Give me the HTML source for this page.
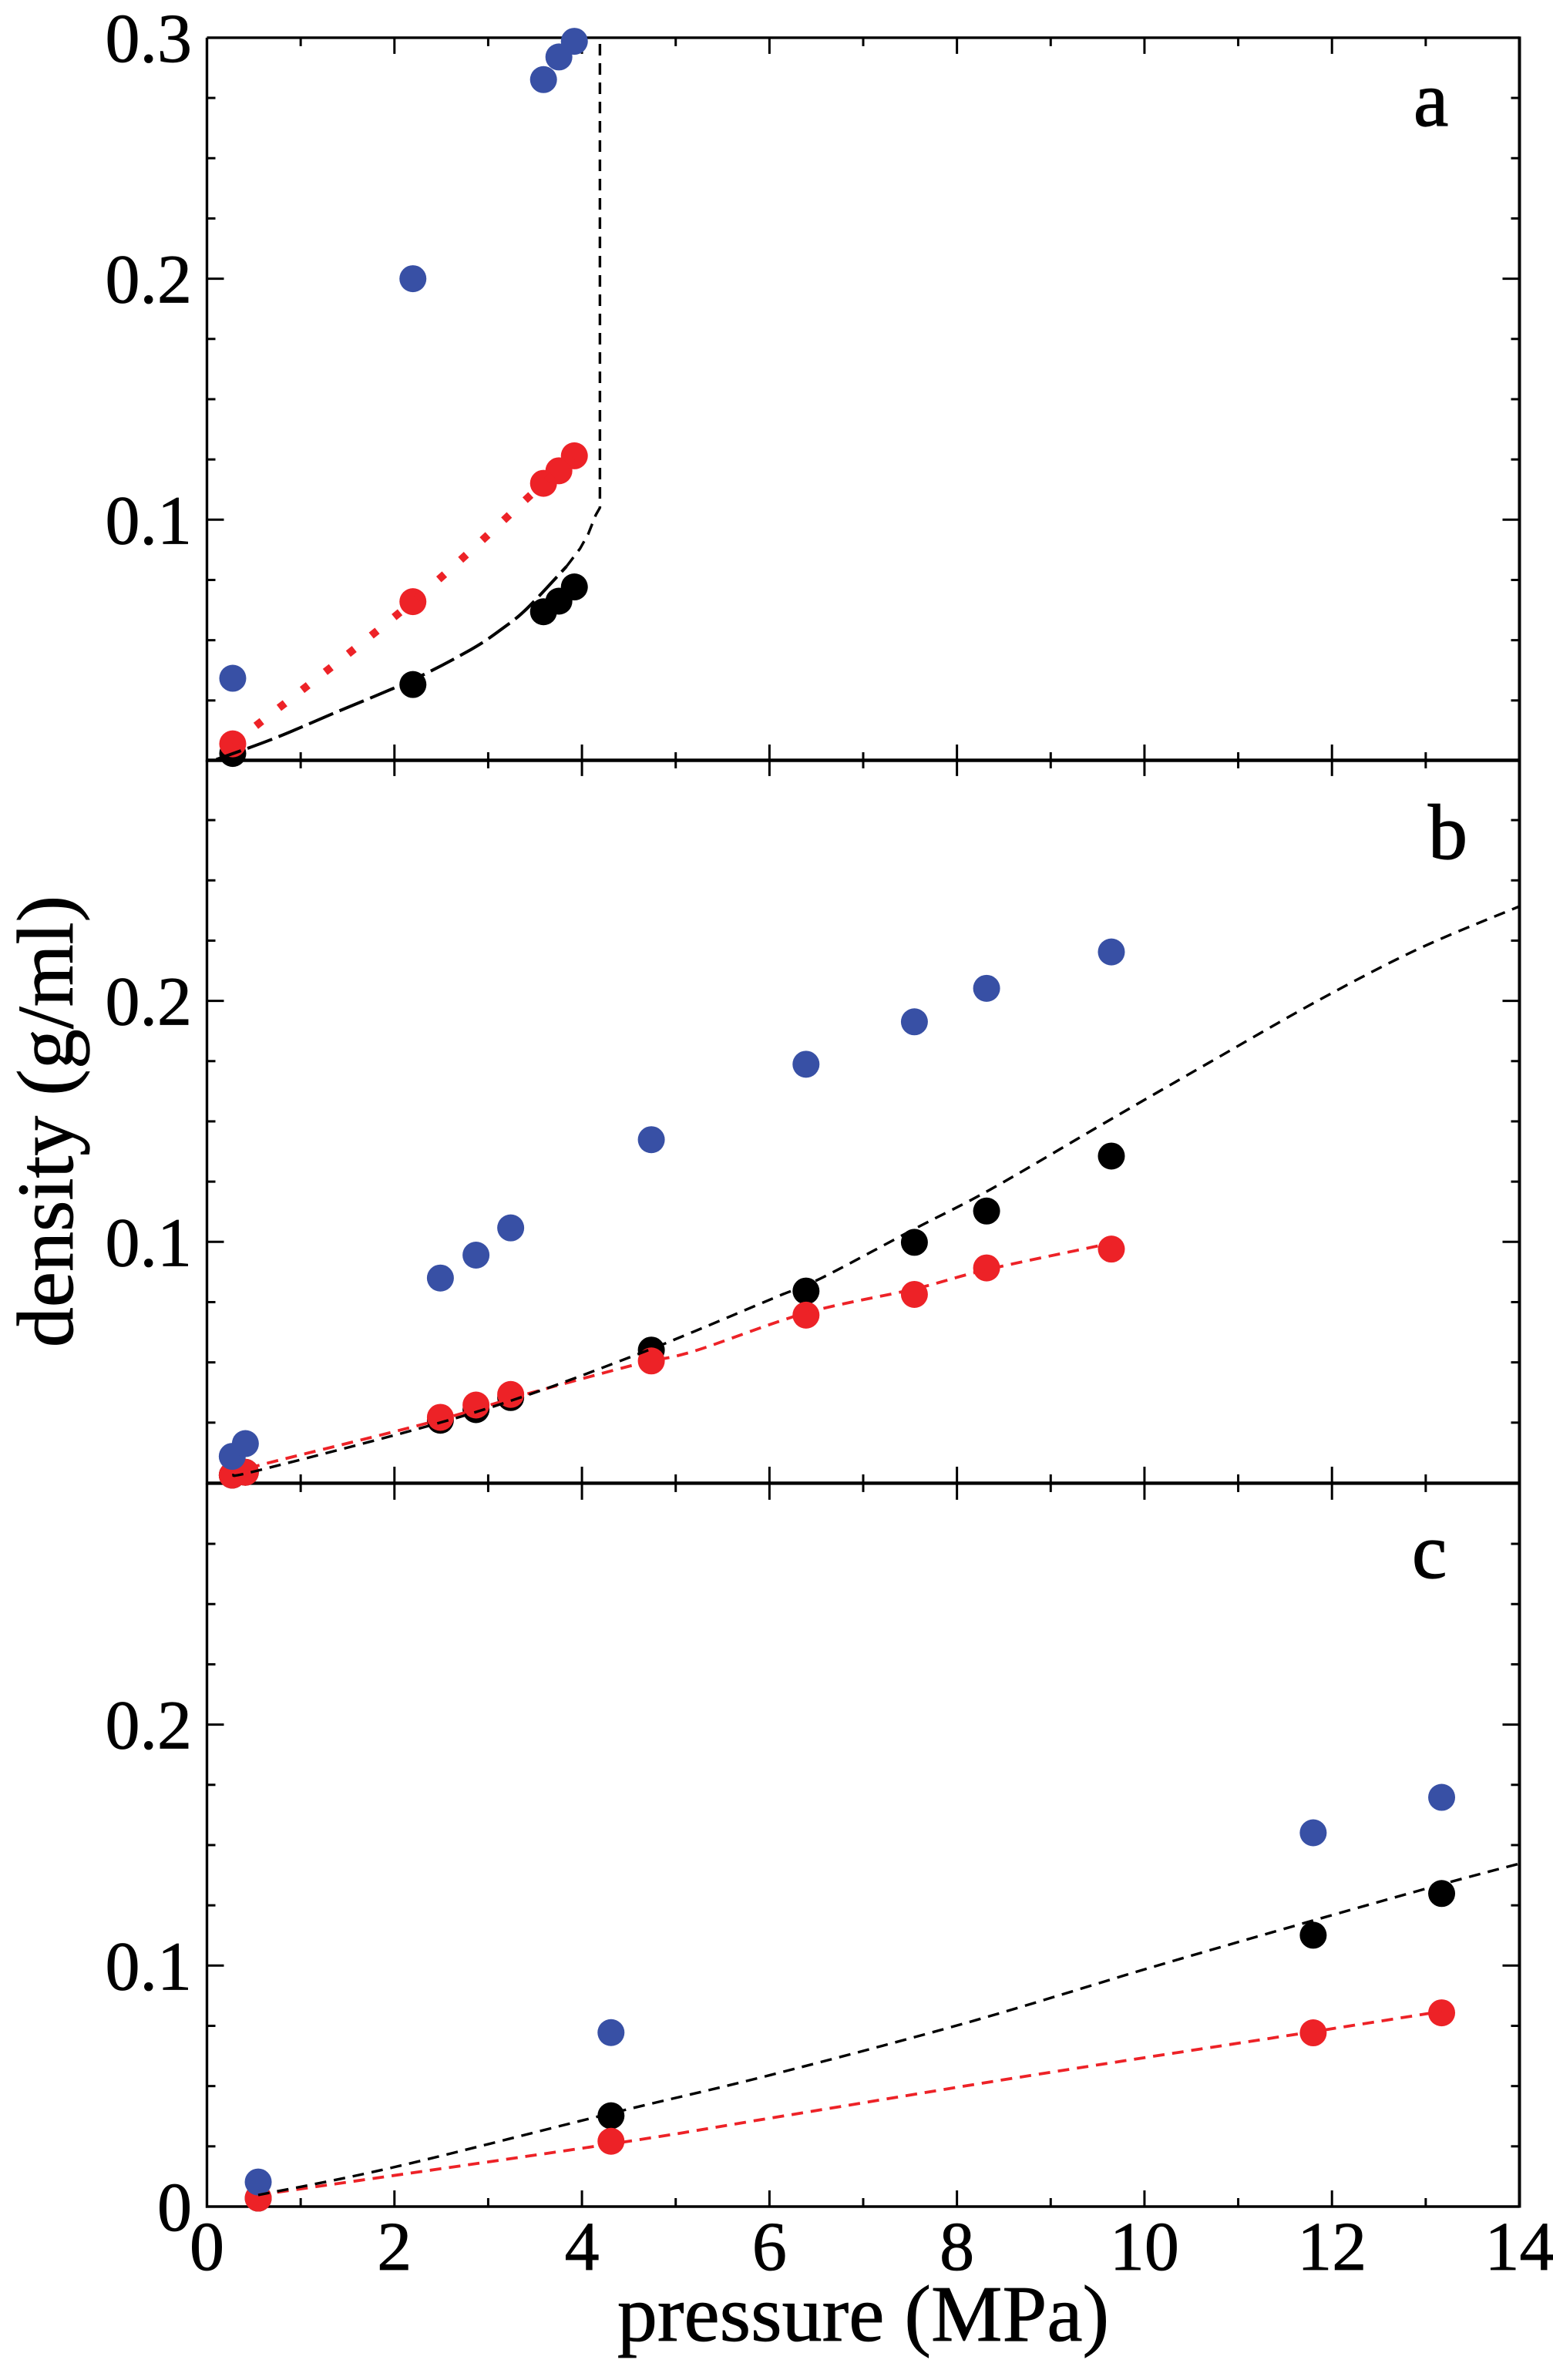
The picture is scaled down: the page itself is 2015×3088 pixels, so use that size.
<!DOCTYPE html>
<html lang="en">
<head>
<meta charset="utf-8">
<title>Density versus pressure</title>
<style>
html,body{margin:0;padding:0;background:#fff;}
svg{display:block;}
text{font-family:"Liberation Serif","Times New Roman",serif;fill:#000;}
.tick-label{font-size:90px;stroke:#000;stroke-width:0.8px;}
.axis-title{font-size:104px;stroke:#000;stroke-width:0.8px;}
.panel-label{font-size:102px;stroke:#000;stroke-width:1.2px;}
</style>
</head>
<body>
<svg id="chart" xmlns="http://www.w3.org/2000/svg" width="2015" height="3088" viewBox="0 0 2015 3088">
  <rect x="0" y="0" width="2015" height="3088" fill="#ffffff"/>
  <g id="plot"></g>
  <text class="panel-label" x="1834" y="163">a</text>
  <text class="panel-label" x="1853" y="1114">b</text>
  <text class="panel-label" x="1832" y="2047">c</text>
  <text class="axis-title" x="1120" y="3037" text-anchor="middle">pressure (MPa)</text>
  <text class="axis-title" text-anchor="middle" transform="translate(94 1455) rotate(-90)">density (g/ml)</text>
</svg>
<script>
// ---- Data ----
const xTickValues = [0, 2, 4, 6, 8, 10, 12, 14];
const xTickLabels = ["0", "2", "4", "6", "8", "10", "12", "14"];

const yTicksA = [0.1, 0.2, 0.3];
const yLabelsA = ["0.1", "0.2", "0.3"];
const yTicksB = [0.1, 0.2];
const yLabelsB = ["0.1", "0.2"];
const yTicksC = [0, 0.1, 0.2];
const yLabelsC = ["0", "0.1", "0.2"];

// Panel a
const pressureA = [0.275, 2.197, 3.59, 3.754, 3.919];
const blueA  = [0.0342, 0.2000, 0.2826, 0.2920, 0.2985];
const redA   = [0.0070, 0.0660, 0.1151, 0.1203, 0.1265];
const blackA = [0.0030, 0.0316, 0.0618, 0.0662, 0.0721];
const curveLowPressureA = [0.10, 0.72, 1.377, 2.197, 2.81, 3.136, 3.41, 3.835];
const curveLowDensityA  = [0.0005, 0.0093, 0.0201, 0.0336, 0.0460, 0.0544, 0.0630, 0.0806];
const curveHighPressureA = [3.835, 3.98, 4.066, 4.148, 4.192, 4.192];
const curveHighDensityA  = [0.0806, 0.0880, 0.0940, 0.1020, 0.1050, 0.3000];

// Panel b
const pressureB = [0.27, 0.41, 2.49, 2.87, 3.24, 4.74, 6.39, 7.546, 8.316, 9.647];
const blueB  = [0.0110, 0.0163, 0.0850, 0.0945, 0.1058, 0.1424, 0.1737, 0.1913, 0.2052, 0.2203];
const redB   = [0.0032, 0.0044, 0.0272, 0.0323, 0.0367, 0.0506, 0.0696, 0.0782, 0.0892, 0.0970];
const blackB = [0.0032, 0.0044, 0.0260, 0.0304, 0.0354, 0.0551, 0.0796, 0.0998, 0.1128, 0.1356];
const curvePressureB = [0.27, 0.54, 2.37, 3.47, 4.575, 5.19, 6.07, 6.55, 7.557, 8.36, 9.63, 10.70, 11.87, 12.93, 14.0];
const curveDensityB  = [0.0032, 0.0051, 0.0237, 0.0371, 0.0531, 0.0627, 0.0771, 0.0849, 0.1056, 0.1218, 0.1506, 0.1746, 0.2005, 0.2217, 0.2392];
const redLinePressureB = [0.27, 0.50, 2.34, 3.47, 4.58, 5.19, 6.39, 7.55, 8.32, 9.65];
const redLineDensityB  = [0.0032, 0.0067, 0.0247, 0.0375, 0.0492, 0.0546, 0.0705, 0.0805, 0.0885, 0.0995];

// Panel c
const pressureC = [0.547, 4.31, 11.80, 13.17];
const blueC  = [0.0102, 0.0722, 0.1551, 0.1698];
const redC   = [0.0035, 0.0271, 0.0721, 0.0804];
const blackC = [0.0035, 0.0377, 0.1126, 0.1299];
const curvePressureC = [0.547, 1.99, 4.31, 6.01, 8.14, 10.06, 11.80, 13.17, 14.0];
const curveDensityC  = [0.0048, 0.0163, 0.0387, 0.0546, 0.0767, 0.0991, 0.1187, 0.1337, 0.1423];
const redLinePressureC = [0.547, 4.31, 6.01, 8.67, 11.95, 13.17];
const redLineDensityC  = [0.0048, 0.0260, 0.0367, 0.0537, 0.0735, 0.0810];

// ---- Axis functions ----
const X_LEFT = 268.5, X_RIGHT = 1971.5, X_MAX = 14;
const Y_UNIT = 3127, Y_SPAN = 0.3;
function xPos(p) { return X_LEFT + (X_RIGHT - X_LEFT) * p / X_MAX; }
function yPos(base, v) { return base - v * Y_UNIT; }

const NS = "http://www.w3.org/2000/svg";
const plot = document.getElementById("plot");
const RED = "#ed2227", BLUE = "#3850a5", BLACK = "#000000";

function make(tag, attrs, parent) {
  const el = document.createElementNS(NS, tag);
  for (const k in attrs) el.setAttribute(k, attrs[k]);
  (parent || plot).appendChild(el);
  return el;
}

function tickLine(group, x1, y1, x2, y2) {
  const el = make("line", {x1: x1, y1: y1, x2: x2, y2: y2, stroke: BLACK, "stroke-width": 3}, group);
  
  
  return el;
}

function drawFrame(name, base, yTicks, yLabels) {
  const top = yPos(base, Y_SPAN);
  const g = make("g", {});
  
  

  const frame = make("path", {
    d: "M" + X_LEFT + " " + top + "H" + X_RIGHT + "M" + X_LEFT + " " + top + "V" + base + "H" + X_RIGHT,
    fill: "none", stroke: BLACK, "stroke-width": 3.4
  }, g);
  
  

  const right = make("line", {x1: X_RIGHT, y1: top - 1.5, x2: X_RIGHT, y2: base + 1.5, stroke: BLACK, "stroke-width": 4}, g);
  
  

  for (let p = 1; p < X_MAX; p++) {
    const len = p % 2 === 0 ? 21 : 11;
    tickLine(g, xPos(p), top, xPos(p), top + len);
    tickLine(g, xPos(p), base, xPos(p), base - len);
  }
  for (let i = 1; i < 12; i++) {
    const v = i * 0.025;
    const len = i % 4 === 0 ? 22 : 11;
    tickLine(g, X_LEFT, yPos(base, v), X_LEFT + len, yPos(base, v));
    tickLine(g, X_RIGHT, yPos(base, v), X_RIGHT - len, yPos(base, v));
  }
  yTicks.forEach(function (v, i) {
    const t = make("text", {"class": "tick-label", x: 249, y: yPos(base, v) + 31, "text-anchor": "end"}, g);
    
    
    t.textContent = yLabels[i];
  });
}

function linePath(base, xs, ys, smooth) {
  const pts = xs.map(function (p, i) { return [xPos(p), yPos(base, ys[i])]; });
  let d = "M" + pts[0][0].toFixed(1) + " " + pts[0][1].toFixed(1);
  for (let i = 1; i < pts.length; i++) {
    const p1 = pts[i - 1], p2 = pts[i];
    if (!smooth) {
      d += "L" + p2[0].toFixed(1) + " " + p2[1].toFixed(1);
      continue;
    }
    const p0 = pts[Math.max(i - 2, 0)], p3 = pts[Math.min(i + 1, pts.length - 1)];
    const c1x = p1[0] + (p2[0] - p0[0]) / 6, c1y = p1[1] + (p2[1] - p0[1]) / 6;
    const c2x = p2[0] - (p3[0] - p1[0]) / 6, c2y = p2[1] - (p3[1] - p1[1]) / 6;
    d += "C" + c1x.toFixed(1) + " " + c1y.toFixed(1) + " " + c2x.toFixed(1) + " " + c2y.toFixed(1) + " " + p2[0].toFixed(1) + " " + p2[1].toFixed(1);
  }
  return d;
}

function drawLine(name, base, xs, ys, color, width, dash, smooth) {
  const el = make("path", {d: linePath(base, xs, ys, smooth), fill: "none", stroke: color, "stroke-width": width, "stroke-dasharray": dash});
  
  
}

function drawPoints(name, base, xs, ys, color) {
  const g = make("g", {fill: color});
  
  
  xs.forEach(function (p, i) {
    const c = make("circle", {cx: xPos(p), cy: yPos(base, ys[i]), r: 17.5}, g);
    
    
  });
}

// ---- Panel baselines ----
const BASE_A = 987, BASE_B = 1924, BASE_C = 2863;

drawFrame("panel-a", BASE_A, yTicksA, yLabelsA);
drawFrame("panel-b", BASE_B, yTicksB, yLabelsB);
drawFrame("panel-c", BASE_C, yTicksC, yLabelsC);

// x tick labels under the bottom panel
xTickValues.forEach(function (p, i) {
  const t = make("text", {"class": "tick-label", x: xPos(p), y: 2945, "text-anchor": "middle"});
  
  
  t.textContent = xTickLabels[i];
});

// Panel a series
drawPoints("panel-a-black-points", BASE_A, pressureA, blackA, BLACK);
drawPoints("panel-a-red-points", BASE_A, pressureA, redA, RED);
drawPoints("panel-a-blue-points", BASE_A, pressureA, blueA, BLUE);
drawLine("panel-a-red-dotted-line", BASE_A, pressureA, redA, RED, 10, "10 28", true);
drawLine("panel-a-black-curve-lower", BASE_A, curveLowPressureA, curveLowDensityA, BLACK, 4, "34 9", true);
drawLine("panel-a-black-curve-upper", BASE_A, curveHighPressureA, curveHighDensityA, BLACK, 3.4, "15 10", false);

// Panel b series
drawPoints("panel-b-black-points", BASE_B, pressureB, blackB, BLACK);
drawPoints("panel-b-red-points", BASE_B, pressureB, redB, RED);
drawPoints("panel-b-blue-points", BASE_B, pressureB, blueB, BLUE);
drawLine("panel-b-red-dashed-line", BASE_B, redLinePressureB, redLineDensityB, RED, 3.8, "15 10", true);
drawLine("panel-b-black-dashed-curve", BASE_B, curvePressureB, curveDensityB, BLACK, 3.4, "15 10", true);

// Panel c series
drawPoints("panel-c-black-points", BASE_C, pressureC, blackC, BLACK);
drawPoints("panel-c-red-points", BASE_C, pressureC, redC, RED);
drawPoints("panel-c-blue-points", BASE_C, pressureC, blueC, BLUE);
drawLine("panel-c-red-dashed-line", BASE_C, redLinePressureC, redLineDensityC, RED, 3.8, "15 10", true);
drawLine("panel-c-black-dashed-curve", BASE_C, curvePressureC, curveDensityC, BLACK, 3.4, "15 10", true);
</script>
</body>
</html>
